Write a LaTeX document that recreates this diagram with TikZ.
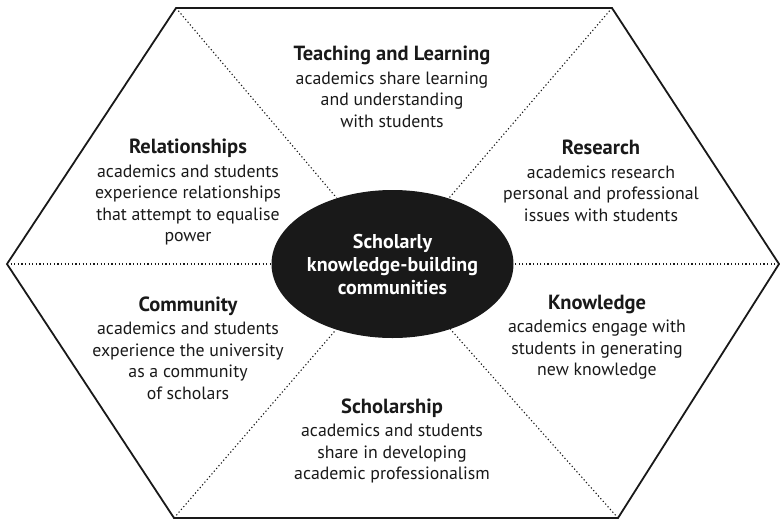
\documentclass[tikz,border=0pt]{standalone}
\usepackage{fontspec}
\setmainfont{PT Sans}
\usepackage{tikz}
\usetikzlibrary{positioning, calc, shapes.geometric}

\newcommand\fieldhead[1]{{\fontsize{20.5}{21.5}\selectfont\bfseries #1}\\[2pt]}

\tikzset{
    facet/.style={align=center, inner sep=0pt, text=black!90,
        font=\fontsize{17.8}{21.5}\selectfont},
    hub/.style={ellipse, fill=black!90, text=white, align=center,
        minimum width=209pt, minimum height=148pt, inner sep=0pt,
        font=\fontsize{20}{23}\selectfont\bfseries},
    spoke/.style={dash pattern=on 1.2pt off 2.4pt, line width=1.1pt, black!90},
    rim/.style={line width=1.8pt, black!90, line join=miter}
}

\begin{document}
\begin{tikzpicture}[x=1pt, y=-1pt]
    \useasboundingbox (0,0) rectangle (780,520);

    % corners of the hexagon
    \coordinate (tl) at (176,8);
    \coordinate (tr) at (612,8);
    \coordinate (r) at (779,264);
    \coordinate (br) at (618,518);
    \coordinate (bl) at (174,518);
    \coordinate (l) at (7,264);

    % middle
    \node[hub] (hub) at (392.5,264)
        {Scholarly\\knowledge-building\\communities};

    % dotted spokes
    \foreach \corner in {tl,tr,r,br,bl,l}
    {
        \draw[spoke] (\corner) -- (hub);
    }

    % border
    \draw[rim] (tl) -- (tr) -- (r) -- (br) -- (bl) -- (l) -- cycle;

    % the six fields
    \node[facet] (teach) at (392,87)
        {\fieldhead{Teaching and Learning}academics share learning\\and understanding\\with students};
    \node[facet] (rel) at (188,192)
        {\fieldhead{Relationships}academics and students\\experience relationships\\that attempt to equalise\\power};
    \node[facet] (res) at (601,181)
        {\fieldhead{Research}academics research\\personal and professional\\issues with students};
    \node[facet] (comm) at (188,348)
        {\fieldhead{Community}academics and students\\experience the university\\as a community\\of scholars};
    \node[facet] (know) at (597,337)
        {\fieldhead{Knowledge}academics engage with\\students in generating\\new knowledge};
    \node[facet] (schol) at (392,441)
        {\fieldhead{Scholarship}academics and students\\share in developing\\academic professionalism};
\end{tikzpicture}
\end{document}
